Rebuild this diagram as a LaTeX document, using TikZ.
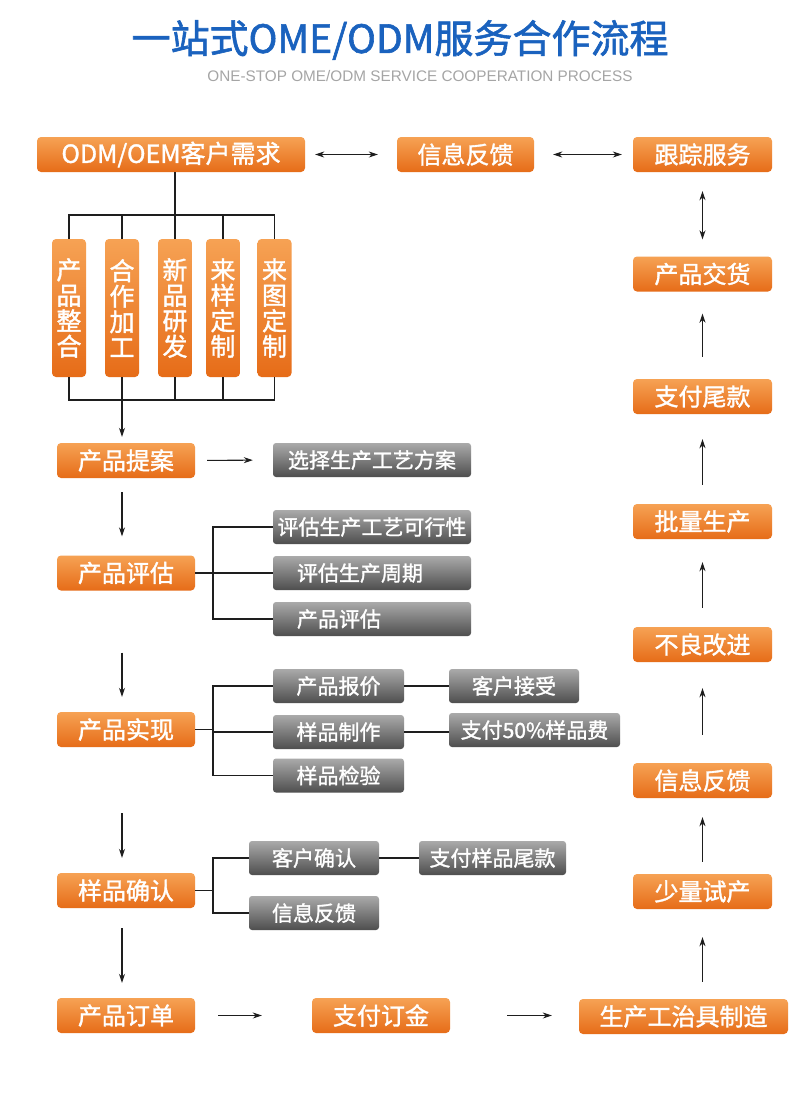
\documentclass[tikz,border=0pt]{standalone}
\usepackage{fontspec}
\setmainfont{Noto Sans CJK SC}
\newfontfamily\cjk{Noto Sans CJK SC}
\newfontfamily\cjktitle{Noto Sans CJK SC}[FakeBold=1.5]
\newfontfamily\cjkfb{Noto Sans CJK SC}[FakeBold=1.4]
\newfontfamily\latin{Liberation Sans}
\usetikzlibrary{arrows.meta}
\definecolor{titleblue}{RGB}{26,98,190}
\definecolor{subgray}{RGB}{165,165,165}
\definecolor{orT}{RGB}{246,162,84}
\definecolor{orB}{RGB}{230,108,24}
\definecolor{grT}{RGB}{170,170,170}
\definecolor{grB}{RGB}{78,78,78}
\definecolor{linec}{RGB}{30,30,30}
\begin{document}
\begin{tikzpicture}[x=1pt,y=-1pt,
  obox/.style={rounded corners=4pt, top color=orT, bottom color=orB, draw=none,
    text=white, font=\cjkfb\fontsize{24}{24}\selectfont, minimum height=35pt, inner sep=0pt},
  vbox/.style={obox, minimum width=34pt, minimum height=138pt, align=center,
    font=\cjkfb\fontsize{25}{25.5}\selectfont},
  gbox/.style={rounded corners=3pt, top color=grT, bottom color=grB, draw=none,
    text=white, font=\cjkfb\fontsize{21}{21}\selectfont, minimum height=34pt, inner sep=0pt},
  gleft/.style={gbox, text width=150pt, align=left, inner xsep=24pt},
  conn/.style={line width=1.1pt, draw=linec},
  arr/.style={conn, -{Stealth[length=9pt,width=6pt]}},
  dbl/.style={conn, {Stealth[length=9pt,width=6pt]}-{Stealth[length=9pt,width=6pt]}}
]
\useasboundingbox[fill=white] (0,0) rectangle (800,1093);

% title
\node[text=titleblue, font=\cjktitle\fontsize{39}{39}\selectfont] (title) at (400,40) {一站式OME/ODM服务合作流程};
\node[text=subgray, font=\latin\fontsize{15.3}{15.3}\selectfont] (sub) at (420,76) {ONE-STOP OME/ODM SERVICE COOPERATION PROCESS};

% top row
\node[obox, minimum width=268pt, font=\cjkfb\fontsize{25}{25}\selectfont] (odm) at (171,154.5) {ODM/OEM客户需求};
\node[obox, minimum width=137pt] (fb1) at (465.5,154.5) {信息反馈};
\node[obox, minimum width=139pt] (track) at (702.5,154.5) {跟踪服务};

% vertical boxes
\node[vbox] (v1) at (69,308) {产\\品\\整\\合};
\node[vbox] (v2) at (122,308) {合\\作\\加\\工};
\node[vbox] (v3) at (175,308) {新\\品\\研\\发};
\node[vbox] (v4) at (223,308) {来\\样\\定\\制};
\node[vbox] (v5) at (274.5,308) {来\\图\\定\\制};

% left column
\node[obox, minimum width=138pt] (proposal) at (126,460.5) {产品提案};
\node[obox, minimum width=138pt] (eval) at (126,573) {产品评估};
\node[obox, minimum width=138pt] (realize) at (126,729.5) {产品实现};
\node[obox, minimum width=138pt] (confirm) at (126,890.5) {样品确认};
\node[obox, minimum width=138pt] (order) at (126,1015.5) {产品订单};
\node[obox, minimum width=138pt] (deposit) at (381,1015.5) {支付订金};
\node[obox, minimum width=209pt] (tooling) at (683.5,1016.5) {生产工治具制造};

% right column
\node[obox, minimum width=139pt] (deliver) at (702.5,274) {产品交货};
\node[obox, minimum width=139pt] (paytail) at (702.5,396.5) {支付尾款};
\node[obox, minimum width=139pt] (mass) at (702.5,521.5) {批量生产};
\node[obox, minimum width=139pt] (improve) at (702.5,644.5) {不良改进};
\node[obox, minimum width=139pt] (fb2) at (702.5,780.5) {信息反馈};
\node[obox, minimum width=139pt] (trial) at (702.5,891.5) {少量试产};

% gray boxes
\node[gbox, minimum width=198pt] (g1) at (372,460) {选择生产工艺方案};
\node[gbox, minimum width=198pt] (g2) at (372,527) {评估生产工艺可行性};
\node[gleft] (g3) at (372,573) {评估生产周期};
\node[gleft] (g4) at (372,619) {产品评估};
\node[gbox, minimum width=131pt] (p1) at (338.5,686) {产品报价};
\node[gbox, minimum width=131pt] (p2) at (338.5,732) {样品制作};
\node[gbox, minimum width=131pt] (p3) at (338.5,775.5) {样品检验};
\node[gbox, minimum width=130pt] (a1) at (514,686) {客户接受};
\node[gbox, minimum width=171pt] (a2) at (534.5,730) {支付50\%样品费};
\node[gbox, minimum width=130pt] (c1) at (314,858) {客户确认};
\node[gbox, minimum width=130pt] (c2) at (314,913) {信息反馈};
\node[gbox, minimum width=147pt] (c3) at (492.5,858) {支付样品尾款};

% helper coordinates
\coordinate (bt) at (0,215);
\coordinate (bb) at (0,400);
\coordinate (eb) at (213,0);
\coordinate (lc) at (122,0);

% top connectors
\draw[dbl, shorten <=10pt, shorten >=19pt] (odm.east) -- (fb1.west);
\draw[dbl, shorten <=19pt, shorten >=11pt] (fb1.east) -- (track.west);
\draw[dbl, shorten <=19pt, shorten >=17pt] (track.south) -- (deliver.north);

% tree
\draw[conn] (odm.south -| v3.north) -- (v3.north);
\draw[conn] (v1.north) -- (v1.north |- bt) -- (v5.north |- bt) -- (v5.north);
\draw[conn] (v2.north) -- (v2.north |- bt);
\draw[conn] (v4.north) -- (v4.north |- bt);
\draw[conn] (v1.south) -- (v1.south |- bb) -- (v5.south |- bb) -- (v5.south);
\draw[conn] (v3.south) -- (v3.south |- bb);
\draw[conn] (v4.south) -- (v4.south |- bb);
\draw[arr, shorten >=6pt] (v2.south) -- (proposal.north -| v2.south);

% left column arrows
\draw[arr, shorten <=12pt, shorten >=20pt] (proposal.east) -- (g1.west);
\draw[arr, shorten <=14pt, shorten >=19pt] (proposal.south -| lc) -- (eval.north -| lc);
\draw[arr, shorten <=62pt, shorten >=15pt] (eval.south -| lc) -- (realize.north -| lc);
\draw[arr, shorten <=66pt, shorten >=15pt] (realize.south -| lc) -- (confirm.north -| lc);
\draw[arr, shorten <=20pt, shorten >=15pt] (confirm.south -| lc) -- (order.north -| lc);
\draw[arr, shorten <=23pt, shorten >=50pt] (order.east) -- (deposit.west);
\draw[arr, shorten <=57pt, shorten >=27pt] (deposit.east) -- (tooling.west |- deposit.east);

% right column arrows
\draw[arr, shorten <=17pt, shorten >=28pt] (tooling.north -| trial.south) -- (trial.south);
\draw[arr, shorten <=12pt, shorten >=19pt] (trial.north) -- (fb2.south);
\draw[arr, shorten <=28pt, shorten >=26pt] (fb2.north) -- (improve.south);
\draw[arr, shorten <=19pt, shorten >=23pt] (improve.north) -- (mass.south);
\draw[arr, shorten <=19pt, shorten >=25pt] (mass.north) -- (paytail.south);
\draw[arr, shorten <=22pt, shorten >=22pt] (paytail.north) -- (deliver.south);

% brackets
\draw[conn] (eval.east) -- (eval.east -| eb);
\draw[conn] (g2.west) -| (eb |- g4.west) -- (g4.west);
\draw[conn] (g3.west) -- (g3.west -| eb);
\draw[conn] (realize.east) -- (realize.east -| eb);
\draw[conn] (p1.west) -| (eb |- p3.west) -- (p3.west);
\draw[conn] (p2.west) -- (p2.west -| eb);
\draw[conn] (confirm.east) -- (confirm.east -| eb);
\draw[conn] (c1.west) -| (eb |- c2.west) -- (c2.west);
\draw[conn] (p1.east) -- (a1.west);
\draw[conn] (p2.east) -- (a2.west |- p2.east);
\draw[conn] (c1.east) -- (c3.west);
\end{tikzpicture}
\end{document}
